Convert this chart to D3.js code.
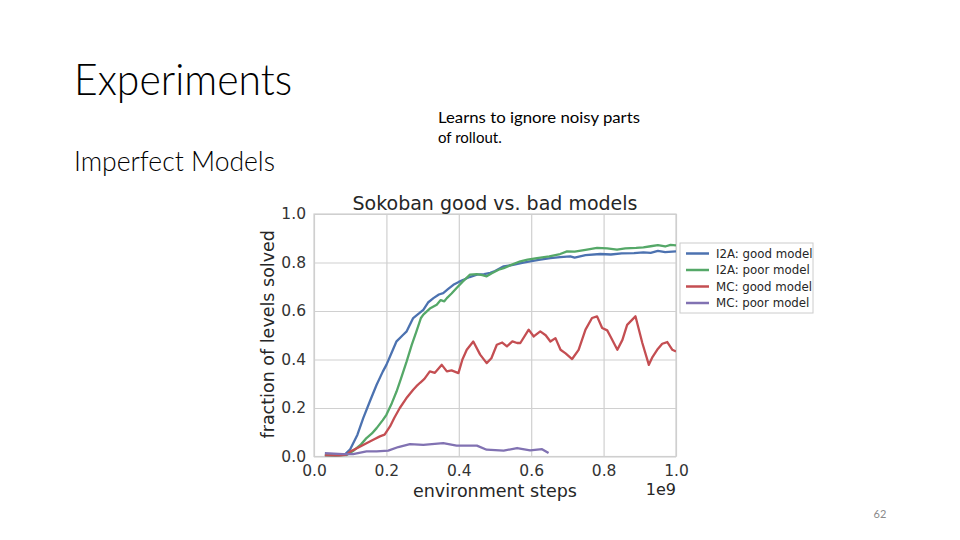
<!DOCTYPE html>
<html><head><meta charset="utf-8">
<script src="https://cdn.jsdelivr.net/npm/d3@7/dist/d3.min.js"></script>
<style>
html,body{margin:0;padding:0;background:#fff;}
svg{display:block;}
</style></head>
<body>
<svg id="c" width="960" height="540"></svg>
<script>
// ---- data ----
const seriesNames = ["I2A: good model", "I2A: poor model", "MC: good model", "MC: poor model"];
const seriesColors = ["#4c72b0", "#55a868", "#c44e52", "#8172b2"];
const xTicks = [0.0, 0.2, 0.4, 0.6, 0.8, 1.0];
const yTicks = [0.0, 0.2, 0.4, 0.6, 0.8, 1.0];

const i2aGoodX = [0.03,0.06,0.085,0.10,0.12,0.136,0.155,0.173,0.19,0.2,0.215,0.228,0.245,0.256,0.274,0.29,0.302,0.315,0.33,0.345,0.357,0.37,0.385,0.40,0.413,0.43,0.45,0.47,0.487,0.50,0.524,0.55,0.575,0.597,0.625,0.653,0.68,0.708,0.72,0.75,0.791,0.82,0.85,0.884,0.91,0.93,0.95,0.97,1.0];
const i2aGoodY = [0.005,0.003,0.008,0.03,0.09,0.158,0.23,0.296,0.35,0.378,0.43,0.475,0.50,0.516,0.571,0.59,0.605,0.635,0.653,0.668,0.674,0.69,0.708,0.72,0.729,0.74,0.75,0.752,0.757,0.765,0.784,0.79,0.798,0.805,0.812,0.818,0.822,0.825,0.82,0.83,0.835,0.833,0.838,0.839,0.842,0.84,0.848,0.843,0.846];

const i2aPoorX = [0.03,0.06,0.09,0.11,0.13,0.145,0.16,0.173,0.19,0.2,0.215,0.228,0.24,0.256,0.27,0.283,0.295,0.302,0.32,0.339,0.35,0.36,0.367,0.38,0.394,0.41,0.431,0.45,0.465,0.477,0.49,0.51,0.524,0.545,0.57,0.59,0.616,0.65,0.68,0.699,0.72,0.75,0.782,0.81,0.837,0.86,0.89,0.91,0.93,0.95,0.97,0.985,1.0];
const i2aPoorY = [0.005,0.003,0.006,0.025,0.05,0.076,0.095,0.117,0.15,0.172,0.22,0.268,0.32,0.392,0.46,0.516,0.57,0.585,0.61,0.626,0.645,0.64,0.653,0.672,0.695,0.72,0.75,0.752,0.748,0.743,0.755,0.77,0.777,0.79,0.805,0.812,0.818,0.825,0.835,0.846,0.845,0.852,0.86,0.858,0.853,0.858,0.86,0.862,0.867,0.872,0.866,0.873,0.871];

const mcGoodX = [0.03,0.07,0.09,0.10,0.12,0.145,0.165,0.182,0.195,0.21,0.222,0.237,0.255,0.274,0.283,0.293,0.305,0.32,0.334,0.353,0.367,0.38,0.399,0.41,0.422,0.44,0.459,0.477,0.49,0.505,0.52,0.533,0.548,0.561,0.57,0.593,0.607,0.625,0.64,0.653,0.667,0.681,0.695,0.713,0.731,0.75,0.768,0.782,0.796,0.81,0.819,0.838,0.852,0.865,0.888,0.907,0.925,0.935,0.948,0.962,0.976,0.99,1.0];
const mcGoodY = [0.005,0.003,0.008,0.02,0.035,0.055,0.07,0.083,0.09,0.124,0.16,0.2,0.24,0.275,0.29,0.304,0.32,0.351,0.345,0.378,0.351,0.355,0.344,0.4,0.44,0.474,0.42,0.385,0.405,0.461,0.47,0.454,0.475,0.468,0.468,0.523,0.495,0.516,0.5,0.474,0.488,0.44,0.425,0.402,0.44,0.523,0.571,0.578,0.53,0.52,0.495,0.44,0.481,0.543,0.578,0.468,0.378,0.41,0.44,0.465,0.472,0.44,0.433];

const mcPoorX = [0.03,0.08,0.108,0.145,0.173,0.205,0.233,0.265,0.302,0.357,0.394,0.45,0.477,0.524,0.561,0.597,0.63,0.648];
const mcPoorY = [0.014,0.01,0.01,0.021,0.021,0.024,0.039,0.051,0.048,0.055,0.045,0.045,0.028,0.024,0.035,0.025,0.03,0.014];

const seriesX = [i2aGoodX, i2aPoorX, mcGoodX, mcPoorX];
const seriesY = [i2aGoodY, i2aPoorY, mcGoodY, mcPoorY];

// ---- drawing ----
const svg = d3.select("#c");
const font = "'DejaVu Sans', sans-serif";
const slideFont = "Lato, 'Open Sans', sans-serif";

// slide texts
svg.append("text").attr("x", 74).attr("y", 95).attr("font-family", slideFont).attr("font-weight", 300)
  .attr("font-size", 44).attr("fill", "#000").attr("textLength", 218).attr("lengthAdjust", "spacingAndGlyphs").text("Experiments");
svg.append("text").attr("x", 74).attr("y", 171).attr("font-family", slideFont).attr("font-weight", 300)
  .attr("font-size", 27).attr("fill", "#000").attr("textLength", 201).attr("lengthAdjust", "spacingAndGlyphs").text("Imperfect Models");
svg.append("text").attr("x", 438).attr("y", 123).attr("font-family", slideFont)
  .attr("font-size", 15).attr("fill", "#000").attr("textLength", 202).attr("lengthAdjust", "spacingAndGlyphs").text("Learns to ignore noisy parts");
svg.append("text").attr("x", 438).attr("y", 143).attr("font-family", slideFont)
  .attr("font-size", 15).attr("fill", "#000").text("of rollout.");
svg.append("text").attr("x", 880).attr("y", 518).attr("font-family", slideFont)
  .attr("font-size", 11).attr("fill", "#8a8a8a").attr("text-anchor", "middle").text("62");

// chart
const L = 314, R = 676, T = 214, B = 456.5;
const x = d3.scaleLinear().domain([0, 1]).range([L, R]);
const y = d3.scaleLinear().domain([0, 1]).range([B, T]);

const g = svg.append("g");
g.append("rect").attr("x", L).attr("y", T).attr("width", R - L).attr("height", B - T).attr("fill", "#fff");

// grid
const gx = g.append("g").attr("transform", `translate(0,${B})`)
  .call(d3.axisBottom(x).tickValues(xTicks).tickSize(-(B - T)).tickFormat(""));
gx.selectAll("line").attr("stroke", "#d0d0d0").attr("stroke-width", 1.2);
gx.select(".domain").remove();
const gy = g.append("g").attr("transform", `translate(${L},0)`)
  .call(d3.axisLeft(y).tickValues(yTicks).tickSize(-(R - L)).tickFormat(""));
gy.selectAll("line").attr("stroke", "#d0d0d0").attr("stroke-width", 1.2);
gy.select(".domain").remove();

g.append("rect").attr("x", L).attr("y", T).attr("width", R - L).attr("height", B - T)
  .attr("fill", "none").attr("stroke", "#cfcfcf").attr("stroke-width", 1.2);

// tick labels via axes
const ax = g.append("g").attr("transform", `translate(0,${B})`)
  .call(d3.axisBottom(x).tickValues(xTicks).tickSize(0).tickPadding(8).tickFormat(d3.format(".1f")));
ax.select(".domain").remove();
ax.selectAll("text").attr("font-family", font).attr("font-size", 15.5).attr("fill", "#333");
const ay = g.append("g").attr("transform", `translate(${L},0)`)
  .call(d3.axisLeft(y).tickValues(yTicks).tickSize(0).tickPadding(8).tickFormat(d3.format(".1f")));
ay.select(".domain").remove();
ay.selectAll("text").attr("font-family", font).attr("font-size", 15.5).attr("fill", "#333");

// lines
const line = d3.line().x(d => x(d[0])).y(d => y(d[1]));
svg.append("clipPath").attr("id", "pc").append("rect")
  .attr("x", L).attr("y", T - 2).attr("width", R - L).attr("height", B - T + 2);
seriesNames.forEach((n, i) => {
  const pts = seriesX[i].map((v, j) => [v, seriesY[i][j]]);
  g.append("path").datum(pts).attr("d", line).attr("fill", "none")
    .attr("stroke", seriesColors[i]).attr("stroke-width", 2.3).attr("stroke-linejoin", "round")
    .attr("clip-path", "url(#pc)");
});

// title & labels
g.append("text").attr("x", (L + R) / 2).attr("y", 210).attr("text-anchor", "middle")
  .attr("font-family", font).attr("font-size", 19).attr("fill", "#262626").text("Sokoban good vs. bad models");
g.append("text").attr("x", (L + R) / 2).attr("y", 497).attr("text-anchor", "middle")
  .attr("font-family", font).attr("font-size", 17.5).attr("fill", "#262626").text("environment steps");
g.append("text").attr("x", R).attr("y", 495).attr("text-anchor", "end")
  .attr("font-family", font).attr("font-size", 16).attr("fill", "#262626").text("1e9");
g.append("text").attr("transform", `translate(274,${(T + B) / 2 - 1}) rotate(-90)`).attr("text-anchor", "middle")
  .attr("font-family", font).attr("font-size", 17.5).attr("fill", "#262626").text("fraction of levels solved");

// legend
const lg = svg.append("g").attr("transform", "translate(680,243)");
lg.append("rect").attr("width", 133).attr("height", 70).attr("fill", "#fff").attr("stroke", "#cccccc").attr("stroke-width", 1);
seriesNames.forEach((n, i) => {
  const yy = 10.5 + i * 16.5;
  lg.append("line").attr("x1", 6).attr("x2", 29).attr("y1", yy).attr("y2", yy)
    .attr("stroke", seriesColors[i]).attr("stroke-width", 2.5);
  lg.append("text").attr("x", 36).attr("y", yy + 4).attr("font-family", font).attr("font-size", 11.8)
    .attr("fill", "#262626").text(n);
});
</script>
</body></html>
